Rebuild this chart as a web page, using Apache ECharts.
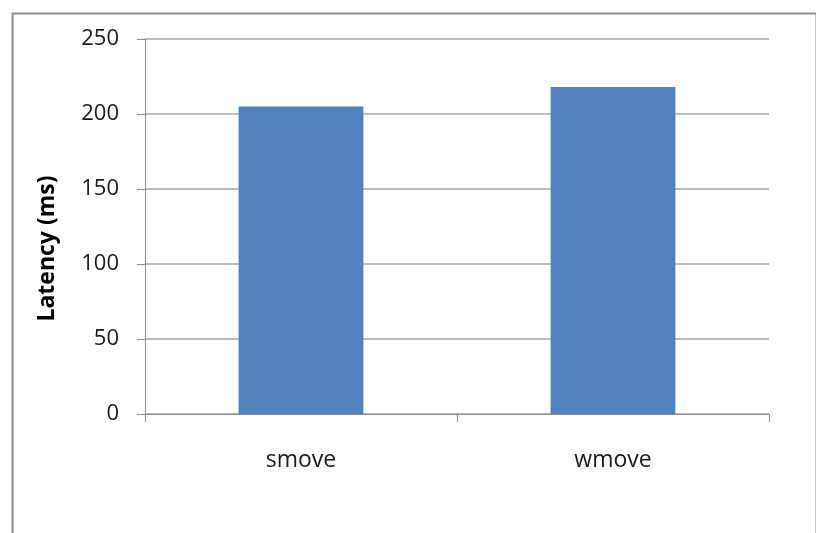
<!DOCTYPE html>
<html>
<head>
<meta charset="utf-8">
<style>
  html, body { margin: 0; padding: 0; background: #ffffff; }
  #chart { width: 816px; height: 533px; }
</style>
<script src="https://cdn.jsdelivr.net/npm/echarts@6/dist/echarts.min.js"></script>
</head>
<body>
<div id="chart"></div>
<script>
// Operation latency, in milliseconds
const categories = ['smove', 'wmove'];
const latencyMs = [205, 218];
const yTicks = [0, 50, 100, 150, 200, 250];

const chart = echarts.init(document.getElementById('chart'), null, { renderer: 'canvas' });

const labelFont = '"Open Sans", "Liberation Sans", sans-serif';

chart.setOption({
  animation: false,
  backgroundColor: '#ffffff',
  graphic: [{
    type: 'rect',
    left: 10,
    top: 11,
    shape: { width: 804, height: 540 },
    style: { fill: 'none', stroke: '#8c8c8c', lineWidth: 2 },
    silent: true,
    z: -1
  }],
  grid: { left: 145, right: 47, top: 39, bottom: 119, containLabel: false },
  xAxis: {
    type: 'category',
    data: categories,
    boundaryGap: true,
    axisLine: { show: true, lineStyle: { color: '#8c8c8c', width: 1 } },
    axisTick: { show: true, length: 8, lineStyle: { color: '#8c8c8c' } },
    axisLabel: {
      margin: 35,
      color: '#1a1a1a',
      fontSize: 23,
      fontFamily: labelFont
    },
    splitLine: { show: false }
  },
  yAxis: {
    type: 'value',
    min: yTicks[0],
    max: yTicks[yTicks.length - 1],
    interval: yTicks[1] - yTicks[0],
    name: 'Latency (ms)',
    nameLocation: 'middle',
    nameGap: 86,
    nameRotate: 90,
    nameTextStyle: {
      color: '#000000',
      fontSize: 23,
      fontWeight: 'bold',
      fontFamily: labelFont,
      padding: [0, 44, 0, 0]
    },
    axisLine: { show: true, lineStyle: { color: '#8c8c8c', width: 1 } },
    axisTick: { show: true, length: 8, lineStyle: { color: '#8c8c8c' } },
    axisLabel: {
      margin: 26,
      color: '#1a1a1a',
      fontSize: 22,
      fontFamily: labelFont
    },
    splitLine: { show: true, lineStyle: { color: '#a6a6a6', width: 1.5 } }
  },
  series: [{
    type: 'bar',
    data: latencyMs,
    barWidth: '40%',
    itemStyle: { color: '#4f81bd' }
  }]
});
</script>
</body>
</html>
